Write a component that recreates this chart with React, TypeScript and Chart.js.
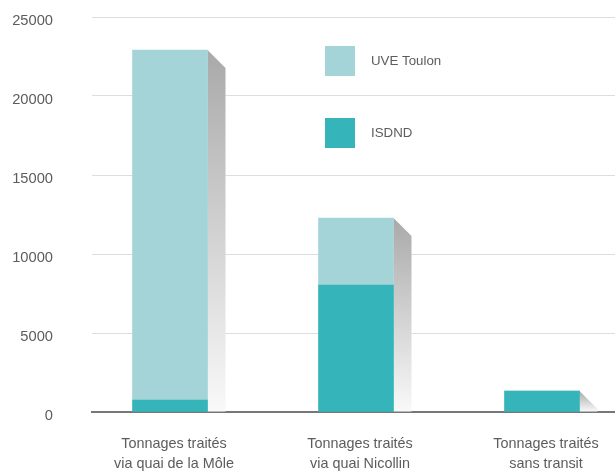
import React, { useEffect, useRef } from "react";
import { Chart, registerables } from "chart.js";

Chart.register(...registerables);

const categories: string[][] = [
  ["Tonnages traités", "via quai de la Môle"],
  ["Tonnages traités", "via quai Nicollin"],
  ["Tonnages traités", "sans transit"],
];
const isdndValues = [760, 8040, 1330];
const uveValues = [22150, 4240, 0];
const yTicks = [0, 5000, 10000, 15000, 20000, 25000];

const FONT = "'Liberation Sans', Arial, sans-serif";
const TEXT_COLOR = "#5c5c5c";

const shadowPlugin = {
  id: "barShadow",
  beforeDatasetsDraw(chart: any) {
    const ctx = chart.ctx;
    const n = categories.length;
    const metas = chart.data.datasets.map((_: any, i: number) => chart.getDatasetMeta(i));
    for (let i = 0; i < n; i++) {
      let top = Infinity;
      let bottom = -Infinity;
      let right = -Infinity;
      metas.forEach((m: any) => {
        const el = m.data[i];
        if (!el) return;
        const p = el.getProps(["x", "y", "base", "width"], true);
        if (Math.abs(p.base - p.y) < 0.5) return;
        top = Math.min(top, p.y, p.base);
        bottom = Math.max(bottom, p.y, p.base);
        right = Math.max(right, p.x + p.width / 2);
      });
      if (!isFinite(top)) continue;
      const d = 18;
      const h = bottom - top;
      const g = ctx.createLinearGradient(0, top, 0, bottom);
      g.addColorStop(0, "#a9a9a9");
      g.addColorStop(1, "#f9f9f9");
      ctx.save();
      ctx.fillStyle = g;
      ctx.beginPath();
      ctx.moveTo(right, top);
      ctx.lineTo(right + d, top + Math.min(d, h));
      ctx.lineTo(right + d, bottom);
      ctx.lineTo(right, bottom);
      ctx.closePath();
      ctx.fill();
      ctx.restore();
    }
  },
};

const legendPlugin = {
  id: "innerLegend",
  afterDraw(chart: any) {
    const ctx = chart.ctx;
    const ds = [...chart.data.datasets].reverse();
    ctx.save();
    ds.forEach((d: any, i: number) => {
      const y = 46 + i * 72;
      ctx.fillStyle = d.backgroundColor;
      ctx.fillRect(325, y, 30, 30);
      ctx.fillStyle = TEXT_COLOR;
      ctx.font = "13.3px " + FONT;
      ctx.textAlign = "left";
      ctx.textBaseline = "middle";
      ctx.fillText(d.label, 371, y + 15);
    });
    ctx.restore();
  },
};

export default function App() {
  const ref = useRef<HTMLCanvasElement>(null);
  useEffect(() => {
    if (!ref.current) return;
    const chart = new Chart(ref.current, {
      type: "bar",
      data: {
        datasets: [
          {
            label: "ISDND",
            data: isdndValues.map((v, i) => ({ x: i, y: v })),
            backgroundColor: "#35b4b9",
            barThickness: 75,
          },
          {
            label: "UVE Toulon",
            data: uveValues.map((v, i) => ({ x: i, y: v })),
            backgroundColor: "#a5d4d8",
            barThickness: 75,
          },
        ],
      },
      plugins: [shadowPlugin, legendPlugin],
      options: {
        responsive: false,
        animation: false,
        layout: { padding: { top: 17, right: 0, left: 0, bottom: 0 } },
        plugins: { legend: { display: false }, tooltip: { enabled: false } },
        scales: {
          x: {
            type: "linear",
            stacked: true,
            offset: false,
            min: -0.4194,
            max: 2.3925,
            grid: { display: false, drawTicks: false, offset: false },
            border: { display: true, color: "#777777", width: 2 },
            afterBuildTicks: (scale: any) => {
              scale.ticks = categories.map((_, i) => ({ value: i }));
            },
            afterFit: (scale: any) => {
              scale.height = 63;
              scale.paddingLeft = 0;
              scale.paddingRight = 0;
            },
            ticks: {
              autoSkip: false,
              maxRotation: 0,
              padding: 22,
              labelOffset: 4,
              color: TEXT_COLOR,
              font: { family: FONT, size: 14.4, lineHeight: 1.39 },
              callback: (v: any) => categories[v] ?? "",
            },
          },
          y: {
            stacked: true,
            min: 0,
            max: 25000,
            afterBuildTicks: (scale: any) => {
              scale.ticks = yTicks.map((v) => ({ value: v }));
            },
            afterFit: (scale: any) => {
              scale.width = 92;
              scale.paddingTop = 9;
              scale.paddingBottom = 9;
            },
            grid: { color: "#dddddd", drawTicks: false, lineWidth: 1 },
            border: { display: false },
            ticks: {
              padding: 39,
              labelOffset: 4,
              color: TEXT_COLOR,
              font: { family: FONT, size: 14.7 },
              callback: (v: any) => String(v),
            },
          },
        },
      },
    } as any);
    return () => chart.destroy();
  }, []);
  return (
    <canvas
      ref={ref}
      width={615}
      height={475}
      style={{ position: "absolute", left: 0, top: 0, display: "block" }}
    />
  );
}
